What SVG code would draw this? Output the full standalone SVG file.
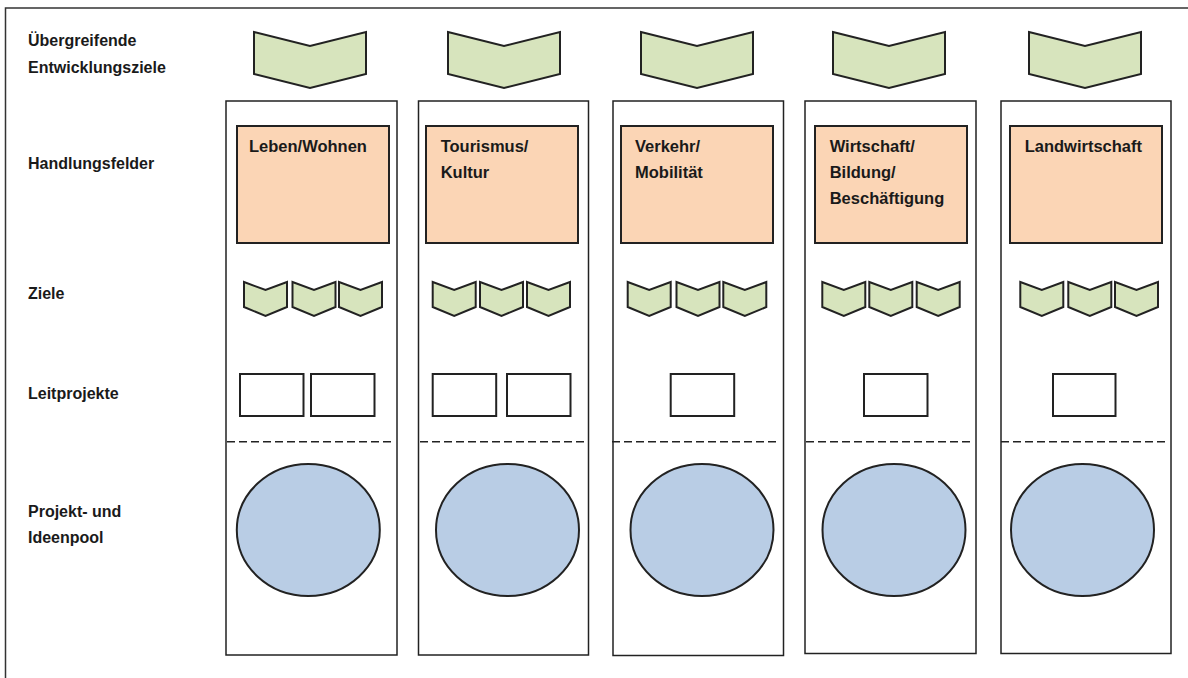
<svg xmlns="http://www.w3.org/2000/svg" xmlns:xlink="http://www.w3.org/1999/xlink" width="1188" height="678" viewBox="0 0 1188 678">
<style>
.lbl{font-family:"Liberation Sans",Arial,sans-serif;font-weight:bold;font-size:16px;fill:#1a1a1a}
.ct{font-family:"Liberation Sans",Arial,sans-serif;font-weight:bold;font-size:16.5px;fill:#1a1a1a}
.col{fill:#fff;stroke:#222;stroke-width:1.5}
.hf{fill:#FBD5B5;stroke:#222;stroke-width:2}
.chev{fill:#D7E4BD;stroke:#222;stroke-width:2;stroke-linejoin:miter}
.lp{fill:#fff;stroke:#222;stroke-width:2}
.pool{fill:#B9CDE5;stroke:#222;stroke-width:2}
.dash{stroke:#222;stroke-width:1.5;stroke-dasharray:8 4;fill:none}
</style>
<defs>
<path id="bigChev" d="M0,0 L56,14 L112,0 L112,42 L56,56 L0,42 Z"/>
<path id="smChev" d="M0,0 L21.5,8 L43,0 L43,25 L21.5,34 L0,25 Z"/>
</defs>
<rect x="0" y="0" width="1188" height="678" fill="#fff"/>
<rect id="frame" x="5.5" y="8" width="1200" height="700" fill="none" stroke="#333" stroke-width="1.5"/>
<g id="labels">
<text class="lbl" x="28" y="45.5">Übergreifende</text>
<text class="lbl" x="28" y="72.5">Entwicklungsziele</text>
<text class="lbl" x="28" y="169">Handlungsfelder</text>
<text class="lbl" x="28" y="299">Ziele</text>
<text class="lbl" x="28" y="399">Leitprojekte</text>
<text class="lbl" x="28" y="517">Projekt- und</text>
<text class="lbl" x="28" y="543">Ideenpool</text>
</g>
<g id="col1">
<use href="#bigChev" x="254" y="32" class="chev"/>
<rect class="col" x="226" y="101" width="171" height="554"/>
<rect class="hf" x="237" y="126" width="152" height="117"/>
<text class="ct" x="249" y="151.7">Leben/Wohnen</text>
<use href="#smChev" x="244" y="282" class="chev"/>
<use href="#smChev" x="292.5" y="282" class="chev"/>
<use href="#smChev" x="339" y="282" class="chev"/>
<rect class="lp" x="240" y="374" width="63.5" height="42"/>
<rect class="lp" x="311" y="374" width="63.5" height="42"/>
<line class="dash" x1="227" y1="441.7" x2="393" y2="441.7"/>
<ellipse class="pool" cx="308.3" cy="530" rx="71.5" ry="66"/>
</g>
<g id="col2">
<use href="#bigChev" x="448" y="32" class="chev"/>
<rect class="col" x="418.5" y="101" width="170" height="554"/>
<rect class="hf" x="426" y="126" width="152" height="117"/>
<text class="ct" x="440.7" y="151.7">Tourismus/</text>
<text class="ct" x="440.7" y="178">Kultur</text>
<use href="#smChev" x="432.7" y="282" class="chev"/>
<use href="#smChev" x="480" y="282" class="chev"/>
<use href="#smChev" x="527" y="282" class="chev"/>
<rect class="lp" x="432.7" y="374" width="63.5" height="42"/>
<rect class="lp" x="507" y="374" width="63.5" height="42"/>
<line class="dash" x1="420" y1="441.7" x2="585" y2="441.7"/>
<ellipse class="pool" cx="507.5" cy="530" rx="71.5" ry="66"/>
</g>
<g id="col3">
<use href="#bigChev" x="641" y="32" class="chev"/>
<rect class="col" x="613" y="101" width="170.5" height="554.5"/>
<rect class="hf" x="621" y="126" width="152" height="117"/>
<text class="ct" x="635" y="151.7">Verkehr/</text>
<text class="ct" x="635" y="178">Mobilität</text>
<use href="#smChev" x="627.7" y="282" class="chev"/>
<use href="#smChev" x="676.5" y="282" class="chev"/>
<use href="#smChev" x="723.3" y="282" class="chev"/>
<rect class="lp" x="670.7" y="374" width="63.5" height="42"/>
<line class="dash" x1="612" y1="441.7" x2="778" y2="441.7"/>
<ellipse class="pool" cx="702" cy="530" rx="71.5" ry="66"/>
</g>
<g id="col4">
<use href="#bigChev" x="833" y="32" class="chev"/>
<rect class="col" x="805" y="101" width="171" height="552.5"/>
<rect class="hf" x="815" y="126" width="152" height="117"/>
<text class="ct" x="829.7" y="151.7">Wirtschaft/</text>
<text class="ct" x="829.7" y="178">Bildung/</text>
<text class="ct" x="829.7" y="203.5">Beschäftigung</text>
<use href="#smChev" x="822.3" y="282" class="chev"/>
<use href="#smChev" x="869.3" y="282" class="chev"/>
<use href="#smChev" x="916.7" y="282" class="chev"/>
<rect class="lp" x="864" y="374" width="63.5" height="42"/>
<line class="dash" x1="806" y1="441.7" x2="972" y2="441.7"/>
<ellipse class="pool" cx="894" cy="530" rx="71.5" ry="66"/>
</g>
<g id="col5">
<use href="#bigChev" x="1029" y="32" class="chev"/>
<rect class="col" x="1001" y="101" width="170" height="552.5"/>
<rect class="hf" x="1010" y="126" width="152" height="117"/>
<text class="ct" x="1024.7" y="151.7">Landwirtschaft</text>
<use href="#smChev" x="1020.3" y="282" class="chev"/>
<use href="#smChev" x="1068.3" y="282" class="chev"/>
<use href="#smChev" x="1115" y="282" class="chev"/>
<rect class="lp" x="1053" y="374" width="62.5" height="42"/>
<line class="dash" x1="1001" y1="441.7" x2="1167" y2="441.7"/>
<ellipse class="pool" cx="1082.5" cy="530" rx="71.5" ry="66"/>
</g>
<g id="connectors"></g>
</svg>
